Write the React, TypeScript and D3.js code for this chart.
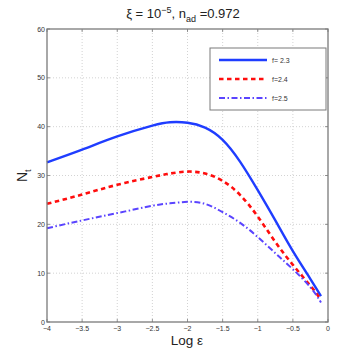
import React from 'react';
import * as d3 from 'd3';

// log epsilon sample points
const logEps = [-4, -3.5, -3, -2.5, -2.25, -2, -1.75, -1.5, -1.25, -1, -0.75, -0.5, -0.25, -0.1];

// N_t for each f
const nF23 = [32.7, 35.3, 38.0, 40.2, 40.9, 40.8, 39.8, 37.3, 32.8, 27.0, 20.8, 14.5, 8.8, 5.3];
const nF24 = [24.2, 26.1, 28.1, 29.7, 30.4, 30.8, 30.4, 28.9, 26.0, 21.6, 16.4, 11.7, 7.4, 4.6];
const nF25 = [19.2, 20.8, 22.3, 23.8, 24.3, 24.6, 24.2, 22.5, 20.3, 17.4, 14.1, 10.8, 7.1, 4.0];

const xTicks = [-4, -3.5, -3, -2.5, -2, -1.5, -1, -0.5, 0];
const yTicks = [0, 10, 20, 30, 40, 50, 60];

const series = [
  { label: 'f= 2.3', values: nF23, color: '#1f3dff', dash: '', width: 2.4 },
  { label: 'f=2.4', values: nF24, color: '#ff0d0d', dash: '4.5,3.5', width: 2.6 },
  { label: 'f=2.5', values: nF25, color: '#5a44ff', dash: '6,2.5,1.5,2.5', width: 2 },
];

const W = 362;
const H = 363;
const m = { left: 47, right: 34, top: 29, bottom: 41 };
const font = 'Liberation Sans, Arial, Helvetica, sans-serif';

export default function App() {
  const x = d3.scaleLinear().domain([-4, 0]).range([m.left, W - m.right]);
  const y = d3.scaleLinear().domain([0, 60]).range([H - m.bottom, m.top]);

  const line = d3
    .line<number>()
    .x((_, i) => x(logEps[i]))
    .y(d => y(d))
    .curve(d3.curveNatural);

  const lg = { x: 210, y: 48, w: 116, h: 62 };

  return (
    <svg
      width={W}
      height={H}
      style={{ position: 'absolute', left: 0, top: 0, background: '#fff' }}
      fontFamily={font}
    >
      <rect width={W} height={H} fill="#fff" />
      {/* grid */}
      <g stroke="#c8c8c8" strokeWidth={0.8} strokeDasharray="1,2">
        {xTicks.slice(1, -1).map(t => (
          <line key={'gx' + t} x1={x(t)} x2={x(t)} y1={y(0)} y2={y(60)} />
        ))}
        {yTicks.slice(1, -1).map(t => (
          <line key={'gy' + t} x1={x(-4)} x2={x(0)} y1={y(t)} y2={y(t)} />
        ))}
      </g>
      {/* curves */}
      {series.map(s => (
        <path
          key={s.label}
          d={line(s.values) || ''}
          fill="none"
          stroke={s.color}
          strokeWidth={s.width}
          strokeDasharray={s.dash}
        />
      ))}
      {/* frame and ticks */}
      <rect
        x={x(-4)}
        y={y(60)}
        width={x(0) - x(-4)}
        height={y(0) - y(60)}
        fill="none"
        stroke="#7a7a7a"
        strokeWidth={1.3}
      />
      <g stroke="#7a7a7a" strokeWidth={0.8}>
        {xTicks.map(t => (
          <g key={'tx' + t}>
            <line x1={x(t)} x2={x(t)} y1={y(0)} y2={y(0) - 3} />
            <line x1={x(t)} x2={x(t)} y1={y(60)} y2={y(60) + 3} />
          </g>
        ))}
        {yTicks.map(t => (
          <g key={'ty' + t}>
            <line x1={x(-4)} x2={x(-4) + 3} y1={y(t)} y2={y(t)} />
            <line x1={x(0)} x2={x(0) - 3} y1={y(t)} y2={y(t)} />
          </g>
        ))}
      </g>
      <g fontSize={7} fill="#333">
        {xTicks.map(t => (
          <text key={'lx' + t} x={x(t)} y={y(0) + 9} textAnchor="middle">
            {t === 0 ? '0' : '\u2212' + Math.abs(t)}
          </text>
        ))}
        {yTicks.map(t => (
          <text key={'ly' + t} x={x(-4) - 2} y={y(t) + 2.5} textAnchor="end">
            {t}
          </text>
        ))}
      </g>
      {/* legend */}
      <rect x={lg.x} y={lg.y} width={lg.w} height={lg.h} fill="#fff" stroke="#7a7a7a" strokeWidth={1} />
      {series.map((s, i) => {
        const ly = lg.y + 12 + i * 19;
        return (
          <g key={'lg' + s.label}>
            <line
              x1={lg.x + 9}
              x2={lg.x + 57}
              y1={ly}
              y2={ly}
              stroke={s.color}
              strokeWidth={s.width}
              strokeDasharray={s.dash}
            />
            <text x={lg.x + 62} y={ly + 2.5} fontSize={7} fill="#333">
              {s.label}
            </text>
          </g>
        );
      })}
      {/* title and axis labels */}
      <text x={183} y={18} fontSize={13} textAnchor="middle" fill="#222">
        ξ = 10
        <tspan dy={-5} fontSize={9}>−5</tspan>
        <tspan dy={5}>, n</tspan>
        <tspan dy={4} fontSize={9}>ad</tspan>
        <tspan dy={-4}> =0.972</tspan>
      </text>
      <text x={187} y={345} fontSize={13.5} textAnchor="middle" fill="#222">
        Log ε
      </text>
      <text transform="translate(27,182) rotate(-90)" fontSize={14} fill="#222">
        N<tspan dy={4} fontSize={9}>t</tspan>
      </text>
    </svg>
  );
}
